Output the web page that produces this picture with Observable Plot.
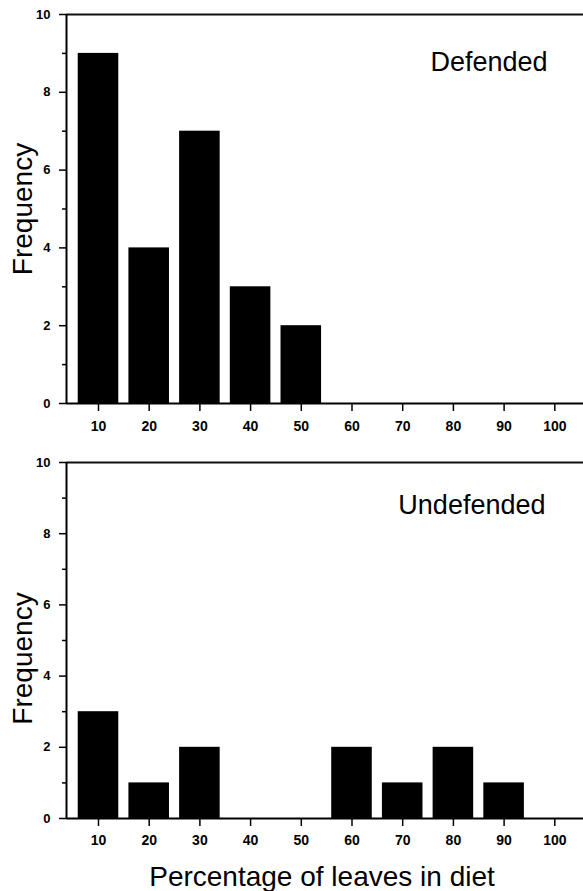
<!DOCTYPE html>
<html>
<head>
<meta charset="utf-8">
<script src="https://cdn.jsdelivr.net/npm/d3@7"></script>
<script src="https://cdn.jsdelivr.net/npm/@observablehq/plot@0.6"></script>
<style>
  html, body { margin: 0; padding: 0; background: #fff; }
  #wrap { position: relative; width: 583px; height: 891px; overflow: hidden; }
  #top, #bottom { position: absolute; left: 0; }
  #top { top: 0; }
  #bottom { top: 445px; }
</style>
</head>
<body>
<div id="wrap"><div id="top"></div><div id="bottom"></div></div>
<script>
// Data
const bins = [10, 20, 30, 40, 50, 60, 70, 80, 90, 100];
const defended = [9, 4, 7, 3, 2, 0, 0, 0, 0, 0];
const undefended = [3, 1, 2, 0, 0, 2, 1, 2, 1, 0];
const majorTicks = [0, 2, 4, 6, 8, 10];
const minorTicks = [1, 3, 5, 7, 9];
const panelLabels = ["Defended", "Undefended"];
const yTitle = "Frequency";
const xTitle = "Percentage of leaves in diet";
const halfWidth = 4;
const xDomain = [3.69, 105.66];
const yDomain = [0, 10];

function panel(values, label, opts) {
  const data = bins.map((b, i) => ({bin: b, freq: values[i]})).filter(d => d.freq > 0);
  const marks = [
    Plot.rectY(data, {x1: d => d.bin - halfWidth, x2: d => d.bin + halfWidth, y1: 0, y2: "freq", fill: "#000"}),
    Plot.ruleY([yDomain[0]], {stroke: "#000", strokeWidth: 2}),
    Plot.ruleY([yDomain[1]], {stroke: "#111", strokeWidth: 2}),
    Plot.ruleX([xDomain[0]], {stroke: "#000", strokeWidth: 2}),
    Plot.axisY({ticks: majorTicks, tickSize: 7, tickPadding: 9, fontSize: 13, strokeWidth: 1.5, tickFormat: d => d, label: null}),
    Plot.axisY({ticks: minorTicks, tickSize: 4, tickFormat: () => "", strokeWidth: 1.5, label: null}),
    Plot.axisX({ticks: bins, tickSize: 8, tickPadding: opts.xPad, fontSize: 14, strokeWidth: 1.5, tickFormat: d => d, label: null}),
    Plot.text([label], {text: d => d, frameAnchor: "top-right", textAnchor: "end", lineAnchor: "bottom",
      dx: opts.labelDx, dy: opts.labelDy, fontSize: 27, fontWeight: "normal"}),
    Plot.text([yTitle], {text: d => d, frameAnchor: "left", rotate: -90, textAnchor: "middle", lineAnchor: "bottom",
      dx: -35, dy: opts.yTitleDy, fontSize: 28, fontWeight: "normal"})
  ];
  if (opts.xTitle) {
    marks.push(Plot.text([opts.xTitle], {text: d => d, frameAnchor: "bottom", textAnchor: "middle", lineAnchor: "bottom",
      dx: -3, dy: 67, fontSize: 28, fontWeight: "normal"}));
  }
  return Plot.plot({
    width: 583,
    height: opts.height,
    marginTop: opts.marginTop,
    marginBottom: opts.marginBottom,
    marginLeft: 66,
    marginRight: 0,
    style: {fontFamily: "'Liberation Sans', Arial, Helvetica, sans-serif", fontWeight: "bold", background: "#fff", color: "#000", overflow: "visible"},
    x: {domain: xDomain, axis: null},
    y: {domain: yDomain, axis: null},
    marks
  });
}

document.getElementById("top").appendChild(panel(defended, panelLabels[0], {
  height: 445, marginTop: 14, marginBottom: 42, xPad: 10, labelDx: -36, labelDy: 56, yTitleDy: 0
}));
document.getElementById("bottom").appendChild(panel(undefended, panelLabels[1], {
  height: 446, marginTop: 17, marginBottom: 73, xPad: 9, labelDx: -38, labelDy: 51, yTitleDy: 18, xTitle
}));
</script>
</body>
</html>
